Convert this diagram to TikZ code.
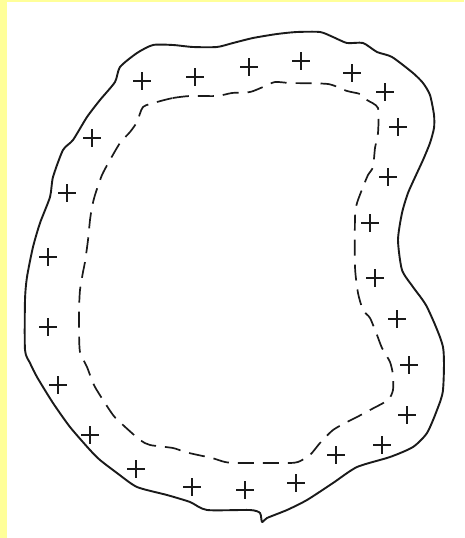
\documentclass[tikz,border=0pt]{standalone}
\usepackage{tikz}
\usepackage{xcolor}
\definecolor{paleyellow}{HTML}{FFFF99}
\definecolor{ink}{HTML}{1A1A1A}

\begin{document}
\begin{tikzpicture}[x=1pt,y=-1pt, outline/.style={draw=ink,line width=1.9pt,line join=round}, innerline/.style={draw=ink,line width=1.7pt,dash pattern=on 16pt off 9pt}, plusmark/.style={draw=ink,line width=1.7pt}]
\useasboundingbox (0,0) rectangle (464,538);
\fill[paleyellow] (0,0) rectangle (464,538);
\fill[white] (7,2) rectangle (464,538);
% outer boundary
\draw[outline] plot[smooth cycle,tension=0.4] coordinates {(115,82) (120,67) (137,53) (153,45) (173,45) (193,47) (217,47) (233,43) (253,38) (277,34) (297,32) (320,32) (333,37) (347,43) (363,43) (377,52) (392,57) (413,73) (423,83) (430,95) (434,115) (434,128) (430,143) (423,160) (417,173) (408,193) (402,213) (398,240) (402,270) (413,287) (427,307) (443,347) (443,390) (437,410) (427,433) (413,447) (390,457) (357,467) (333,483) (307,500) (287,510) (267,518) (262,522) (260,513) (250,510) (207,510) (190,502) (167,495) (137,487) (117,473) (100,460) (90,450) (70,427) (53,403) (37,377) (30,363) (25,350) (25,300) (27,277) (33,247) (40,223) (50,197) (53,177) (63,150) (73,140) (87,117) (100,100)};
% inner dashed boundary
\draw[innerline] plot[smooth cycle,tension=0.4] coordinates {(157,102) (173,98) (190,96) (217,96) (232,93) (250,92) (263,87) (275,82) (290,83) (328,84) (347,91) (360,94) (367,100) (378,108) (378,133) (375,148) (373,167) (368,175) (363,187) (357,203) (355,217) (355,267) (358,293) (363,310) (370,318) (377,335) (382,348) (390,362) (393,375) (393,390) (388,400) (370,410) (357,417) (347,422) (333,430) (320,443) (310,455) (298,462) (287,463) (238,463) (225,462) (212,458) (198,455) (185,452) (173,448) (150,445) (140,440) (123,425) (113,415) (95,387) (87,367) (80,352) (79,330) (79,310) (80,290) (83,272) (85,262) (88,240) (90,220) (92,207) (95,195) (102,175) (110,160) (120,143) (130,132) (137,122) (143,107)};
% crosses in the band
\foreach \px/\py in {142/81,195/77,249/67,301/61,352/73,385/92,398/127,388/177,370/223,375/278,397/319,409/365,407/415,382/445,336/455,296/483,245/490,192/487,136/469,90/435,58/385,48/327,48/257,67/193,92/138}
  \draw[plusmark] (\px-9,\py) -- (\px+9,\py) (\px,\py-9) -- (\px,\py+9);
\end{tikzpicture}
\end{document}
